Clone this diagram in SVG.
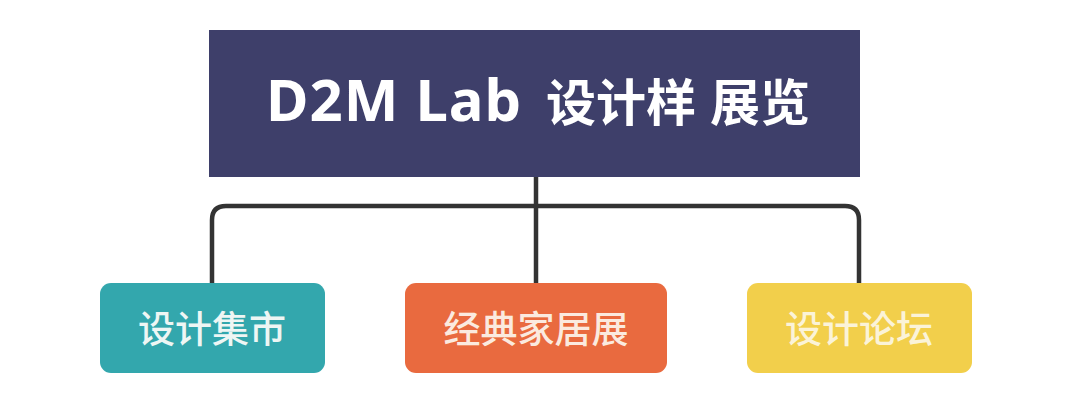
<svg xmlns="http://www.w3.org/2000/svg" width="1080" height="419" viewBox="0 0 1080 419">
<style>
.lbl{font-family:"Noto Sans CJK SC","Noto Sans",sans-serif;font-weight:500;font-size:37px;text-anchor:middle;dominant-baseline:central}
.conn{fill:none;stroke:#333333;stroke-width:4.5;stroke-linejoin:round}
.title{font-family:"Noto Sans","Noto Sans CJK SC",sans-serif;font-weight:bold;fill:#ffffff}
</style>
<rect width="1080" height="419" fill="#ffffff"/>
<g id="connectors">
<path class="conn" d="M212,284 V220 Q212,206 226,206 H845 Q859,206 859,220 V284"/>
<path class="conn" d="M536,177 V284"/>
</g>
<g id="root">
<rect x="209" y="30" width="651" height="147" fill="#3e3f6a"/>
<text class="title" y="121"><tspan x="266" font-size="58" letter-spacing="1">D2M Lab</tspan><tspan x="546" font-size="50" font-family="Noto Sans CJK SC,sans-serif">设计样</tspan><tspan x="710" font-size="50" font-family="Noto Sans CJK SC,sans-serif">展览</tspan></text>
</g>
<g id="node-market">
<rect x="100" y="283" width="225" height="90" rx="11" fill="#33a7ad"/>
<text class="lbl" x="212" y="327" fill="#eef6f4">设计集市</text>
</g>
<g id="node-furniture">
<rect x="405" y="283" width="262" height="90" rx="11" fill="#e96a3f"/>
<text class="lbl" x="536" y="327" fill="#fbeadf">经典家居展</text>
</g>
<g id="node-forum">
<rect x="747" y="283" width="225" height="90" rx="11" fill="#f2cf4b"/>
<text class="lbl" x="859" y="327" fill="#fbf3d8">设计论坛</text>
</g>
</svg>
